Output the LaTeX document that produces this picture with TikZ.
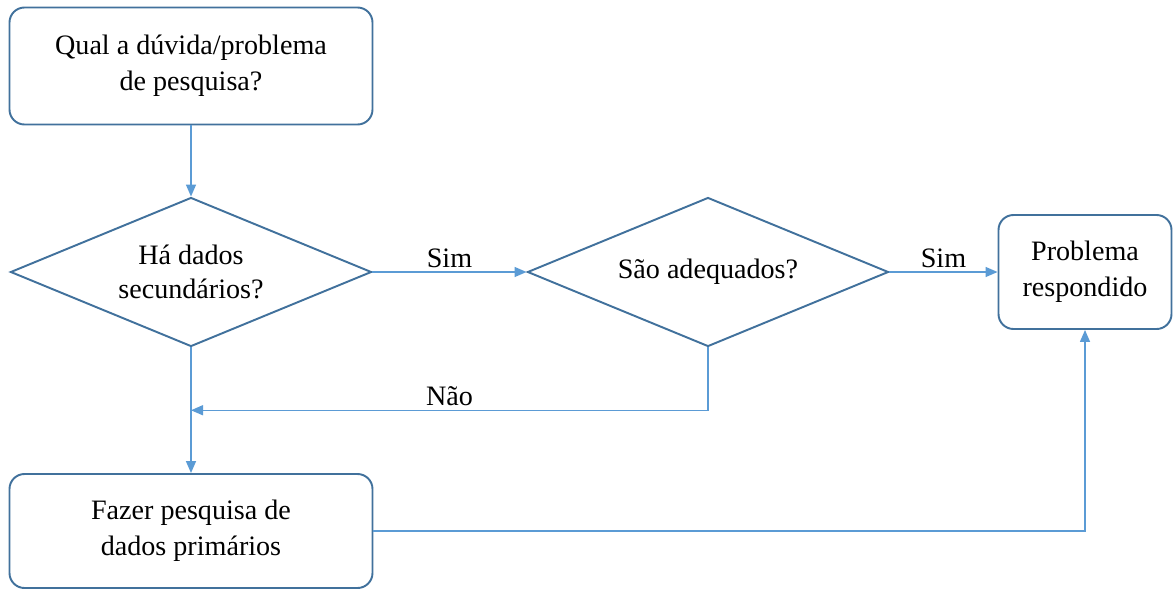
\documentclass[tikz,border=0pt]{standalone}
\usepackage{fontspec}
\setmainfont{Liberation Serif}
\usepackage{tikz}
\usetikzlibrary{shapes.geometric, arrows.meta}
\definecolor{edgeblue}{HTML}{41719C}
\definecolor{lineblue}{HTML}{5B9BD5}
\tikzstyle{startstop} = [rectangle, rounded corners=0.3cm, align=center, text centered, draw=edgeblue, line width=1.1pt, minimum width=7.26cm, minimum height=2.3cm, font=\fontsize{16}{20.5}\selectfont]
\tikzstyle{decision} = [diamond, aspect=2.42, align=center, text centered, draw=edgeblue, line width=1.1pt, minimum width=7.22cm, minimum height=2.98cm, inner sep=0pt, font=\fontsize{16}{19.5}\selectfont]
\tikzstyle{arrow} = [draw=lineblue, line width=0.85pt, -{Triangle[length=0.24cm, width=0.2cm]}]
\tikzstyle{lbl} = [font=\fontsize{16}{19}\selectfont, inner sep=2pt]

\begin{document}
\begin{tikzpicture}[node distance=4.12cm]
\useasboundingbox (-3.82,1.32) rectangle (19.64,-10.48);

\node (duvida) [startstop, minimum height=2.34cm] {Qual a dúvida/problema\\de pesquisa?};
\node (hadados) [decision, below of = duvida] {Há dados\\secundários?};
\node (adequados) [decision, right of = hadados, xshift=6.22cm] {São adequados?};
\node (respondido) [startstop, right of = adequados, xshift=3.42cm, minimum width=3.46cm, minimum height=2.28cm] {Problema\\respondido};
\node (primarios) [startstop, below of = hadados, yshift=-1.06cm, minimum height=2.28cm] {Fazer pesquisa de\\dados primários};

\draw [arrow] (duvida) -- (hadados);
\draw [arrow] (hadados) -- node[lbl, midway, above] {Sim} (adequados);
\draw [arrow] (adequados) -- node[lbl, midway, above] {Sim} (respondido);
\draw [arrow] (hadados) --coordinate[midway](m1)(primarios);
\draw [arrow] (adequados) |- node[lbl, pos=0.75, above] {Não} (m1);
\draw [arrow] (primarios) -| (respondido);

\end{tikzpicture}
\end{document}
